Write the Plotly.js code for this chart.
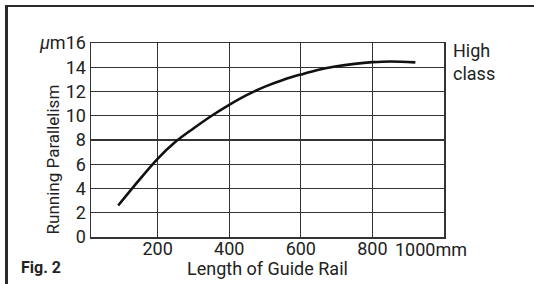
<!DOCTYPE html>
<html><head><meta charset="utf-8">
<script src="https://cdn.plot.ly/plotly-3.0.1.min.js"></script>
<style>
html,body{margin:0;padding:0;background:#fff;overflow:hidden}
#wrap{position:relative;width:534px;height:284px}
#chart{width:534px;height:284px}
#frame{position:absolute;left:5px;top:5px;width:600px;height:400px;border-top:2.5px solid #2a2a2a;border-left:3px solid #2a2a2a;pointer-events:none}
</style>
</head><body><div id="wrap"><div id="chart"></div><div id="frame"></div></div>
<script>
// Data
const lengthMm = [90, 150, 200, 250, 300, 350, 400, 450, 500, 550, 600, 650, 700, 750, 800, 850, 920];
const parallelismUm = [2.6, 4.75, 6.45, 7.85, 8.95, 9.98, 10.9, 11.72, 12.4, 12.95, 13.4, 13.8, 14.08, 14.28, 14.42, 14.48, 14.4];
const xTickVals = [200, 400, 600, 800];
const xTickText = ["200", "400", "600", "800"];
const yTickVals = [0, 2, 4, 6, 8, 10, 12, 14, 16];
const yTickText = ["0", "2", "4", "6", "8", "10", "12", "14", "<i>μ</i>m16"];

const FONT = "Roboto, 'Liberation Sans', sans-serif";
const INK = "#222";

const trace = {
  x: lengthMm, y: parallelismUm, type: "scatter", mode: "lines",
  line: {color: "#111", width: 2.6, shape: "spline", smoothing: 1},
  hoverinfo: "skip"
};

const layout = {
  width: 534, height: 284,
  margin: {l: 91, r: 90, t: 43, b: 47},
  paper_bgcolor: "#fff", plot_bgcolor: "#fff",
  showlegend: false,
  font: {family: FONT, color: INK, size: 18},
  xaxis: {
    range: [14, 1000], tickvals: xTickVals, ticktext: xTickText,
    showgrid: true, gridcolor: "#333", gridwidth: 1.3,
    showline: true, linecolor: "#333", linewidth: 1.5, mirror: true,
    zeroline: false, ticks: "", ticklabelstandoff: -5,
    tickfont: {family: FONT, size: 18, color: INK}, fixedrange: true
  },
  yaxis: {
    range: [0, 16], tickvals: yTickVals, ticktext: yTickText,
    showgrid: true, gridcolor: "#333", gridwidth: 1.3,
    showline: true, linecolor: "#333", linewidth: 1.5, mirror: true,
    zeroline: false, ticks: "", ticklabelstandoff: 0,
    tickfont: {family: FONT, size: 18, color: INK}, fixedrange: true
  },
  annotations: [
    {text: "1000mm", xref: "x", yref: "paper", x: 1000, y: 0, yanchor: "top", yshift: 0, xshift: -13,
     showarrow: false, font: {family: FONT, size: 18, color: INK}},
    {text: "Length of Guide Rail", xref: "paper", yref: "paper", x: 0.5, y: 0, yanchor: "top", yshift: -19,
     showarrow: false, font: {family: FONT, size: 18, color: INK}},
    {text: "Running Parallelism", xref: "paper", yref: "paper", x: 0, y: 0.40, xanchor: "center", yanchor: "middle",
     xshift: -38, textangle: -90, showarrow: false, font: {family: FONT, size: 17, color: INK}},
    {text: "High<br>class", xref: "paper", yref: "paper", x: 1, y: 1, xanchor: "left", yanchor: "top", xshift: 7, yshift: 5,
     align: "left", showarrow: false, font: {family: FONT, size: 18, color: INK}},
    {text: "<b>Fig. 2</b>", xref: "paper", yref: "paper", x: 0, y: 0, xanchor: "left", yanchor: "middle",
     xshift: -72, yshift: -30, showarrow: false, font: {family: FONT, size: 16, color: INK}}
  ]
};

Plotly.newPlot("chart", [trace], layout, {staticPlot: true, displayModeBar: false});
</script></body></html>
